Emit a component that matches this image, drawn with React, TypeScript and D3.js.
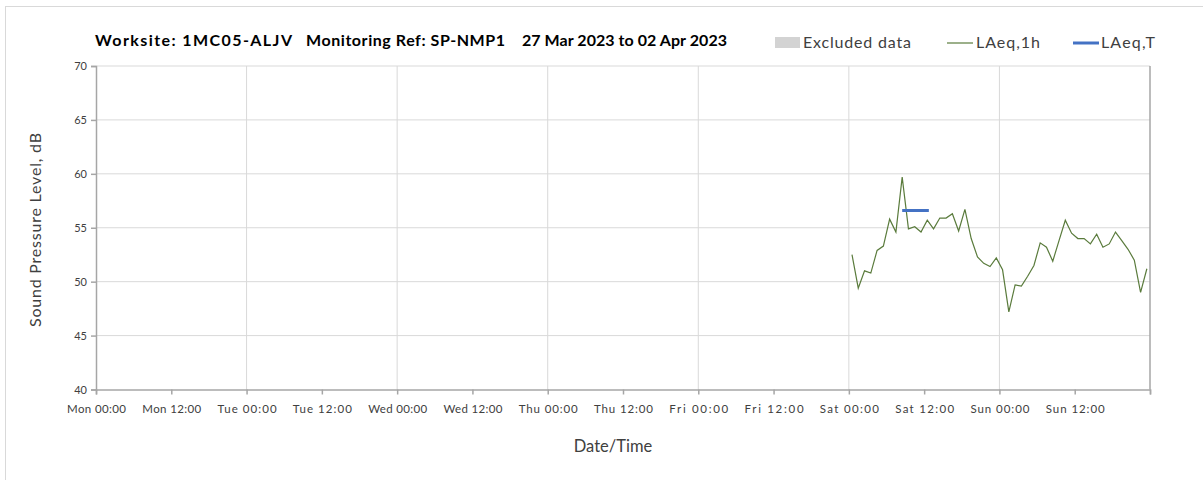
import React, { useRef, useEffect } from "react";
import * as d3 from "d3";

// axis range: Mon 27 Mar 2023 00:00 to Mon 03 Apr 2023 00:00
const xStart = new Date(Date.UTC(2023, 2, 27, 0, 0));
const xEnd = new Date(Date.UTC(2023, 3, 3, 0, 0));
const yTicks = [40, 45, 50, 55, 60, 65, 70];

// LAeq,1h hourly values, first one at Sat 01 Apr 00:30
const laeqStart = new Date(Date.UTC(2023, 3, 1, 0, 30));
const laeq1h = [
  52.5, 49.4, 51.0, 50.8, 52.9, 53.3, 55.8, 54.6, 59.7, 54.9, 55.1, 54.6,
  55.7, 54.9, 55.9, 55.9, 56.3, 54.7, 56.7, 54.0, 52.3, 51.7, 51.4, 52.2,
  51.1, 47.2, 49.7, 49.6, 50.5, 51.5, 53.6, 53.2, 51.9, 53.8, 55.7, 54.5,
  54.0, 54.0, 53.5, 54.4, 53.2, 53.5, 54.6, 53.8, 53.0, 52.0, 49.0, 51.2,
];

// LAeq,T over the measurement period
const laeqT = [
  { from: new Date(Date.UTC(2023, 3, 1, 8, 30)), to: new Date(Date.UTC(2023, 3, 1, 12, 45)), value: 56.6 },
];

const titleParts = ["Worksite: 1MC05-ALJV", "Monitoring Ref: SP-NMP1", "27 Mar 2023 to 02 Apr 2023"];

function App() {
  const svgRef = useRef(null);

  useEffect(() => {
    const svg = d3.select(svgRef.current);
    svg.selectAll("*").remove();
    const font = "Lato, 'Open Sans', sans-serif";

    const margin = { left: 96, right: 1150, top: 66, bottom: 389.5 };
    const x = d3.scaleUtc().domain([xStart, xEnd]).range([margin.left, margin.right]);
    const y = d3.scaleLinear().domain([40, 70]).range([margin.bottom, margin.top]);

    // outer frame
    svg.append("rect")
      .attr("x", 5.5).attr("y", 6.5).attr("width", 1300).attr("height", 600)
      .attr("fill", "white").attr("stroke", "#d9d9d9");

    // grid
    const dayTicks = x.ticks(d3.utcDay.every(1));
    svg.append("g").selectAll("line").data(dayTicks.slice(1, -1)).join("line")
      .attr("x1", d => x(d)).attr("x2", d => x(d))
      .attr("y1", margin.top).attr("y2", margin.bottom)
      .attr("stroke", "#d9d9d9").attr("stroke-width", 1);
    svg.append("g").selectAll("line").data(yTicks.slice(1)).join("line")
      .attr("x1", margin.left).attr("x2", margin.right)
      .attr("y1", d => y(d)).attr("y2", d => y(d))
      .attr("stroke", "#d9d9d9").attr("stroke-width", 1);

    // right border
    svg.append("line")
      .attr("x1", margin.right).attr("x2", margin.right)
      .attr("y1", margin.top).attr("y2", margin.bottom)
      .attr("stroke", "#a6a6a6").attr("stroke-width", 1.5);

    // axes
    const xAxis = d3.axisBottom(x)
      .ticks(d3.utcHour.every(12))
      .tickFormat(d3.utcFormat("%a %H:%M"))
      .tickSize(5);
    const gx = svg.append("g").attr("transform", `translate(0,${margin.bottom})`).call(xAxis);
    gx.select(".domain").attr("stroke", "#a6a6a6").attr("stroke-width", 1.5);
    gx.selectAll(".tick line").attr("stroke", "#a6a6a6").attr("stroke-width", 1.5);
    gx.selectAll(".tick text")
      .attr("fill", "#404040").attr("font-size", 11.5).attr("font-family", font).attr("dy", "1.35em")
      .attr("textLength", 59).attr("lengthAdjust", "spacing")
      .filter((d, i, n) => i === n.length - 1).remove();

    const yAxis = d3.axisLeft(y).tickValues(yTicks).tickFormat(d3.format("d")).tickSize(5);
    const gy = svg.append("g").attr("transform", `translate(${margin.left},0)`).call(yAxis);
    gy.select(".domain").attr("stroke", "#a6a6a6").attr("stroke-width", 1.5);
    gy.selectAll(".tick line").attr("stroke", "#a6a6a6").attr("stroke-width", 1.5);
    gy.selectAll(".tick text")
      .attr("fill", "#404040").attr("font-size", 11).attr("font-family", font).attr("x", -9);

    // LAeq,1h line
    const points = laeq1h.map((v, i) => ({ t: d3.utcHour.offset(laeqStart, i), v }));
    const line = d3.line().x(d => x(d.t)).y(d => y(d.v));
    svg.append("path").datum(points)
      .attr("d", line)
      .attr("fill", "none").attr("stroke", "#5a7b3c").attr("stroke-width", 1.2);

    // LAeq,T
    svg.append("g").selectAll("line").data(laeqT).join("line")
      .attr("x1", d => x(d.from)).attr("x2", d => x(d.to))
      .attr("y1", d => y(d.value)).attr("y2", d => y(d.value))
      .attr("stroke", "#4472c4").attr("stroke-width", 3);

    // title
    const titleX = [95, 306, 522];
    const titleW = [197, 199, 205];
    svg.append("g").selectAll("text").data(titleParts).join("text")
      .attr("x", (d, i) => titleX[i]).attr("y", 46)
      .attr("font-family", font).attr("font-weight", "bold").attr("font-size", 16)
      .attr("textLength", (d, i) => titleW[i]).attr("lengthAdjust", "spacing")
      .attr("fill", "#000").text(d => d);

    // legend
    const lg = svg.append("g").attr("font-family", font).attr("font-size", 16).attr("fill", "#404040");
    lg.append("rect").attr("x", 775).attr("y", 37).attr("width", 25).attr("height", 11).attr("fill", "#d3d3d3");
    lg.append("text").attr("x", 803).attr("y", 48).attr("textLength", 108).attr("lengthAdjust", "spacing").text("Excluded data");
    lg.append("line").attr("x1", 947).attr("x2", 973).attr("y1", 43).attr("y2", 43)
      .attr("stroke", "#5a7b3c").attr("stroke-width", 1.2);
    lg.append("text").attr("x", 976).attr("y", 48).attr("textLength", 64).attr("lengthAdjust", "spacing").text("LAeq,1h");
    lg.append("line").attr("x1", 1073).attr("x2", 1099).attr("y1", 43).attr("y2", 43)
      .attr("stroke", "#4472c4").attr("stroke-width", 3);
    lg.append("text").attr("x", 1101).attr("y", 48).attr("textLength", 54).attr("lengthAdjust", "spacing").text("LAeq,T");

    // axis titles
    svg.append("text")
      .attr("transform", `translate(41,${(133 + 327) / 2}) rotate(-90)`)
      .attr("text-anchor", "middle").attr("font-family", font).attr("font-size", 16)
      .attr("textLength", 194).attr("lengthAdjust", "spacing")
      .attr("fill", "#404040").text("Sound Pressure Level, dB");
    svg.append("text")
      .attr("x", 613).attr("y", 452).attr("text-anchor", "middle")
      .attr("font-family", font).attr("font-size", 16.5)
      .attr("fill", "#404040").text("Date/Time");
  }, []);

  return (
    <div style={{ position: "absolute", left: 0, top: 0 }}>
      <svg ref={svgRef} width={1203} height={480}></svg>
    </div>
  );
}

export default App;
